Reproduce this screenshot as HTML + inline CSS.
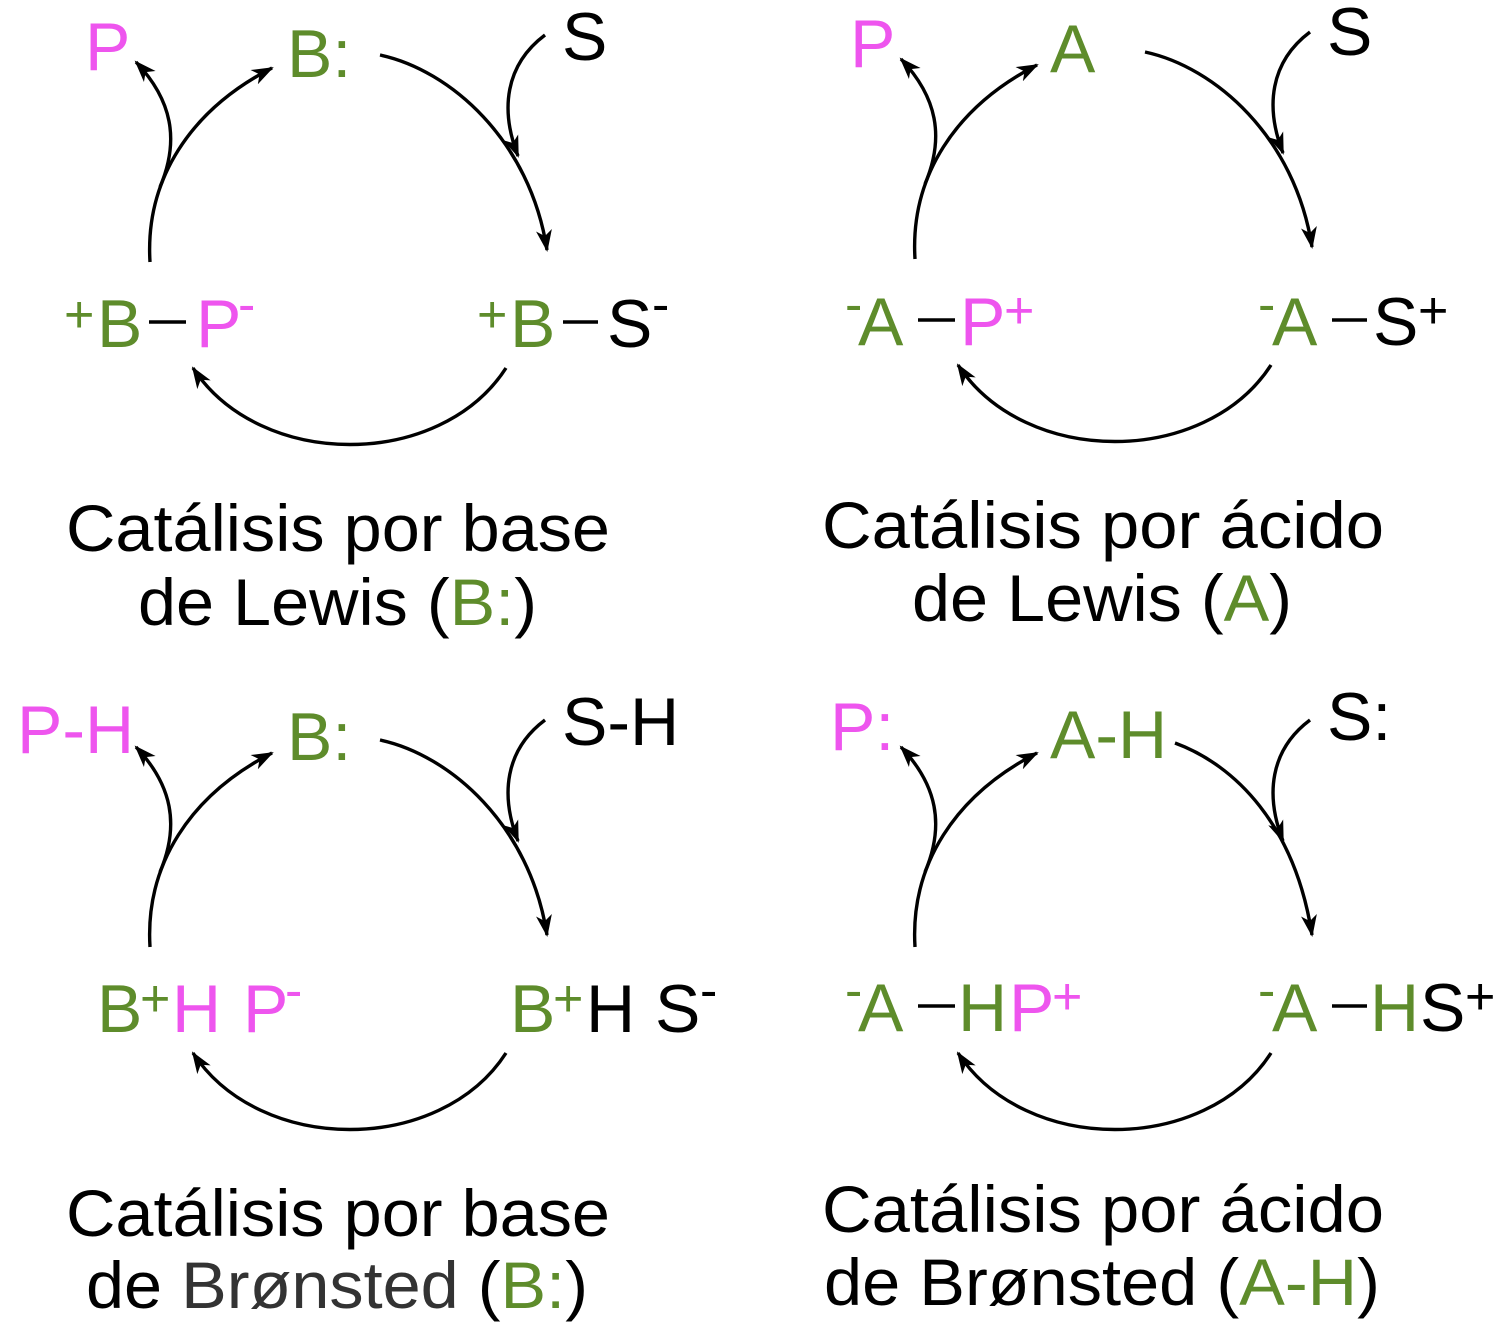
<!DOCTYPE html>
<html><head><meta charset="utf-8"><style>
html,body{margin:0;padding:0;background:#fff}
svg{display:block}
text{font-family:"Liberation Sans",Arial,sans-serif}
.g{fill:#5e8c2b}.m{fill:#ee55ee}.k{fill:#000}.d{fill:#333}
.n{font-size:68px}.s{font-size:52px}.c{font-size:66px}
.a{fill:none;stroke:#000;stroke-width:3.4;marker-end:url(#ah)}
.b{stroke:#000;stroke-width:3.4}
</style></head><body>
<svg width="1504" height="1328" viewBox="0 0 1504 1328" xmlns="http://www.w3.org/2000/svg">
<defs>
<marker id="ah" markerUnits="userSpaceOnUse" markerWidth="24" markerHeight="18" refX="20" refY="8" orient="auto">
<path d="M0,0 L22,8 L0,16 L6,8 z" fill="#000"/>
</marker>
<g id="arcsb">
<path class="a" d="M545,35 C505,65 500,110 518,156"/>
<path class="a" d="M150,262 C145,180 190,110 272,68"/>
<path class="a" d="M160,187 C180,140 172,100 136,62"/>
<path class="a" d="M506,368 C440,470 260,470 193,368"/>
</g>
<g id="arcs">
<path class="a" d="M380,55 C450,70 530,140 547,250"/>
<use href="#arcsb"/>
</g>
</defs>

<!-- Panel 1 -->
<use href="#arcs"/>
<text class="n m" x="85" y="70">P</text>
<text class="n g" x="287" y="77">B:</text>
<text class="n k" x="562" y="60">S</text>
<text class="s g" x="64" y="332">+</text>
<text class="n g" x="97" y="347">B</text>
<line class="b" x1="149" y1="322" x2="186" y2="322"/>
<text class="n m" x="196" y="347">P</text>
<text class="s m" x="238" y="322">-</text>
<text class="s g" x="477" y="332">+</text>
<text class="n g" x="510" y="347">B</text>
<line class="b" x1="563" y1="322" x2="598" y2="322"/>
<text class="n k" x="607" y="347">S</text>
<text class="s k" x="652" y="322">-</text>
<text class="c k" x="66" y="551" textLength="544" lengthAdjust="spacingAndGlyphs">Catálisis por base</text>
<text class="c k" x="138" y="625" textLength="399" lengthAdjust="spacingAndGlyphs">de Lewis (<tspan class="g">B:</tspan>)</text>

<!-- Panel 2 -->
<use href="#arcs" transform="translate(765,-3)"/>
<text class="n m" x="850" y="67">P</text>
<text class="n g" x="1050" y="72">A</text>
<text class="n k" x="1327" y="55">S</text>
<text class="s g" x="845" y="322">-</text>
<text class="n g" x="858" y="345">A</text>
<line class="b" x1="918" y1="320" x2="955" y2="320"/>
<text class="n m" x="960" y="345">P</text>
<text class="s m" x="1004" y="328">+</text>
<text class="s g" x="1258" y="322">-</text>
<text class="n g" x="1272" y="345">A</text>
<line class="b" x1="1332" y1="320" x2="1367" y2="320"/>
<text class="n k" x="1373" y="345">S</text>
<text class="s k" x="1418" y="328">+</text>
<text class="c k" x="822" y="548" textLength="562" lengthAdjust="spacingAndGlyphs">Catálisis por ácido</text>
<text class="c k" x="912" y="621" textLength="380" lengthAdjust="spacingAndGlyphs">de Lewis (<tspan class="g">A</tspan>)</text>

<!-- Panel 3 -->
<use href="#arcs" transform="translate(0,685)"/>
<text class="n m" x="17" y="753">P-H</text>
<text class="n g" x="287" y="760">B:</text>
<text class="n k" x="562" y="745">S-H</text>
<text class="n g" x="97" y="1032">B</text>
<text class="s g" x="140" y="1016">+</text>
<text class="n m" x="172" y="1032">H</text>
<text class="n m" x="243" y="1032">P</text>
<text class="s m" x="285" y="1008">-</text>
<text class="n g" x="510" y="1032">B</text>
<text class="s g" x="553" y="1016">+</text>
<text class="n k" x="586" y="1032">H</text>
<text class="n k" x="655" y="1032">S</text>
<text class="s k" x="700" y="1008">-</text>
<text class="c k" x="66" y="1236" textLength="544" lengthAdjust="spacingAndGlyphs">Catálisis por base</text>
<text class="c k" x="86" y="1308" textLength="502" lengthAdjust="spacingAndGlyphs">de <tspan class="d">Brønsted</tspan> (<tspan class="g">B:</tspan>)</text>

<!-- Panel 4 -->
<g transform="translate(765,685)">
<path class="a" d="M410,58 C470,80 530,140 547,250"/>
<use href="#arcsb"/>
</g>
<text class="n m" x="830" y="750">P:</text>
<text class="n g" x="1050" y="758">A-H</text>
<text class="n k" x="1327" y="740">S:</text>
<text class="s g" x="845" y="1008">-</text>
<text class="n g" x="858" y="1031">A</text>
<line class="b" x1="918" y1="1006" x2="955" y2="1006"/>
<text class="n g" x="958" y="1031">H</text>
<text class="n m" x="1009" y="1031">P</text>
<text class="s m" x="1052" y="1014">+</text>
<text class="s g" x="1258" y="1008">-</text>
<text class="n g" x="1272" y="1031">A</text>
<line class="b" x1="1332" y1="1006" x2="1367" y2="1006"/>
<text class="n g" x="1370" y="1031">H</text>
<text class="n k" x="1420" y="1031">S</text>
<text class="s k" x="1465" y="1014">+</text>
<text class="c k" x="822" y="1232" textLength="562" lengthAdjust="spacingAndGlyphs">Catálisis por ácido</text>
<text class="c k" x="824" y="1305" textLength="556" lengthAdjust="spacingAndGlyphs">de Brønsted (<tspan class="g">A-H</tspan>)</text>
</svg>
</body></html>
